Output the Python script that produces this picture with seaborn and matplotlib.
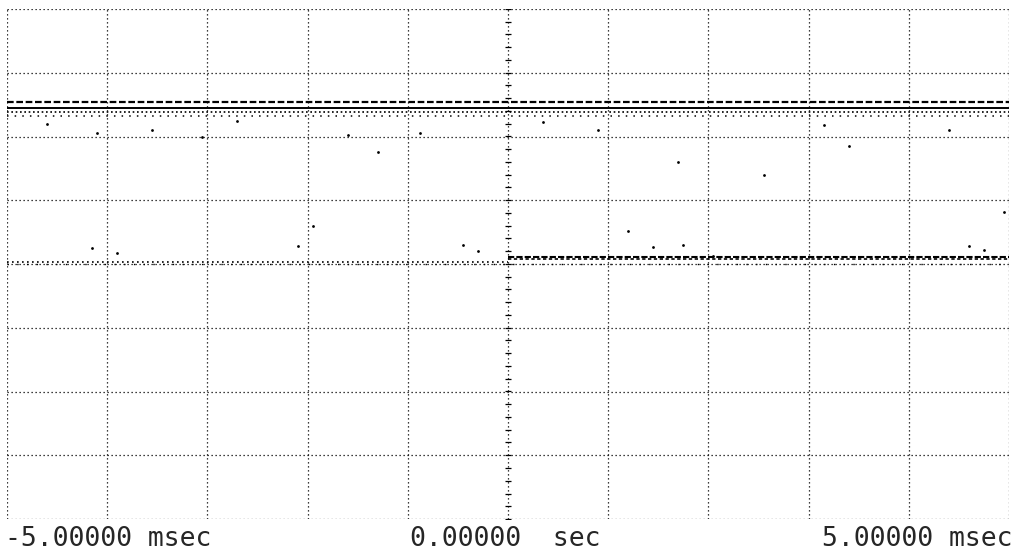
import matplotlib
matplotlib.use("Agg")
import matplotlib.pyplot as plt
import seaborn as sns
import pandas as pd
import numpy as np

# ---- data (time in msec, amplitude in screen divisions, 0 = centre) ----
x_min, x_max = -5.0, 5.0
y_min, y_max = -4.0, 4.0
x_labels = ["-5.00000 msec", "0.00000  sec", "5.00000 msec"]

# upper trace: bands of dots/dashes (start msec, end msec, level div)
upper_start = [-5.0, -5.0, -5.0, -5.0]
upper_end = [5.0, 5.0, 5.0, 5.0]
upper_level = [2.545, 2.445, 2.385, 2.32]

# lower trace bands
lower_start = [-5.0, 0.0, 0.0, -5.0]
lower_end = [0.0, 5.0, 5.0, 5.0]
lower_level = [0.035, 0.105, 0.075, 0.0]

# scattered stray points (msec, div)
stray_x = [-4.1, -3.55, -3.05, -1.6, -1.3, -0.88, 0.9, 1.7, 2.55, 3.4, 4.4,
           -4.15, -2.1, -0.45, -0.3, 1.2, 1.45, 1.75, 2.05, 4.6, 4.75, 4.95,
           -4.6, -2.7, 0.35, 3.15, -3.9, -1.95]
stray_y = [2.05, 2.1, 2.0, 2.02, 1.75, 2.05, 2.1, 1.6, 1.4, 1.85, 2.1,
           0.25, 0.28, 0.3, 0.2, 0.52, 0.27, 0.3, 0.12, 0.28, 0.22, 0.82,
           2.2, 2.25, 2.22, 2.18, 0.18, 0.6]

# ---- figure ----
sns.set_style("white")
plt.rcParams["font.family"] = ["DejaVu Sans Mono", "DejaVu Sans"]
fig = plt.figure(figsize=(10.18, 5.5), dpi=100)
ax = fig.add_axes([7 / 1018, 1 - 519 / 550, 1002 / 1018, 510 / 550])
ax.set_xlim(x_min, x_max)
ax.set_ylim(y_min, y_max)

grid_ls = (0, (1, 2.2))
for gx in np.linspace(x_min, x_max, 11):
    ax.axvline(gx, color="black", lw=0.9, ls=grid_ls, zorder=1)
for gy in np.linspace(y_min, y_max, 9):
    ax.axhline(gy, color="black", lw=0.9, ls=grid_ls, zorder=1)
for s in ax.spines.values():
    s.set_visible(False)

# centre axis minor ticks
tick_y = np.arange(y_min, y_max + 0.01, 0.2)
sns.scatterplot(x=np.zeros_like(tick_y), y=tick_y, marker="_", s=18,
                color="black", linewidth=0.9, ax=ax, zorder=2)

upper_styles = [((0, (3, 1.2)), 1.6), ("-", 1.4), ((0, (1, 1.6)), 1.2), ((0, (1, 4)), 1.1)]
for st, en, lv, (ls, lw) in zip(upper_start, upper_end, upper_level, upper_styles):
    df = pd.DataFrame({"t": [st, en], "v": [lv, lv]})
    sns.lineplot(data=df, x="t", y="v", color="black", lw=lw, ls=ls, ax=ax, zorder=3)

lower_styles = [((0, (1, 2.0)), 1.2), ((0, (3, 1.0)), 1.5), ((0, (2, 1.5)), 1.2), ((0, (1, 6)), 1.0)]
for st, en, lv, (ls, lw) in zip(lower_start, lower_end, lower_level, lower_styles):
    df = pd.DataFrame({"t": [st, en], "v": [lv, lv]})
    sns.lineplot(data=df, x="t", y="v", color="black", lw=lw, ls=ls, ax=ax, zorder=3)

sns.scatterplot(x=stray_x, y=stray_y, s=4, color="black", linewidth=0, ax=ax, zorder=3)

ax.set_xticks([])
ax.set_yticks([])
ax.set_xlabel("")
ax.set_ylabel("")

fig.text(5 / 1018, 1 - 546 / 550, x_labels[0], fontsize=19, ha="left", va="baseline")
fig.text(410 / 1018, 1 - 546 / 550, x_labels[1], fontsize=19, ha="left", va="baseline")
fig.text(1013 / 1018, 1 - 546 / 550, x_labels[2], fontsize=19, ha="right", va="baseline")

fig.savefig("out.png", dpi=100, facecolor="white")
